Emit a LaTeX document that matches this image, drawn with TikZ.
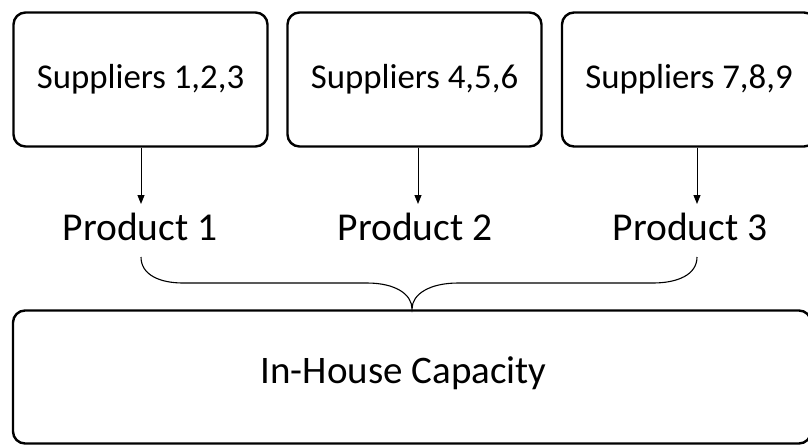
\documentclass[tikz,border=0pt]{standalone}
\usepackage{fontspec}
\setmainfont{Carlito}
\usetikzlibrary{arrows.meta}
\begin{document}
\begin{tikzpicture}[x=1pt,y=-1pt,
  frame/.style={draw, line width=2.4pt, rounded corners=12pt},
  supbox/.style={frame, minimum width=254pt, minimum height=134pt, font=\fontsize{34.8}{40}\selectfont},
  prod/.style={font=\fontsize{39.5}{46}\selectfont},
  feed/.style={-{Triangle[length=9pt,width=7pt]}, line width=1pt},
  brace/.style={line width=1.1pt}]
\useasboundingbox (0,0) rectangle (808,445);
% supplier groups
\node[supbox] (s1) at (140.5,79.5) {Suppliers 1,2,3};
\node[supbox] (s2) at (414.5,79.5) {Suppliers 4,5,6};
\node[supbox] (s3) at (689,79.5) {Suppliers 7,8,9};
% products
\node[prod] (p1) at (140,226.5) {Product 1};
\node[prod] (p2) at (415,226.5) {Product 2};
\node[prod] (p3) at (690,226.5) {Product 3};
% capacity block
\node[frame, minimum width=798pt, minimum height=133pt] (capbox) at (412,377) {};
\node[font=\fontsize{39}{44}\selectfont] (cap) at (403.5,373) {In-House Capacity};
% supply arrows
\draw[feed] (s1.south -| 141,0) -- (141,204) coordinate (t1);
\draw[feed] (s2.south -| 418,0) -- (418,204) coordinate (t2);
\draw[feed] (s3.south -| 697,0) -- (697,204) coordinate (t3);
% brace joining the three products
\coordinate (bl) at (141,257);
\coordinate (br) at (697,257);
\coordinate (tip) at (412,309);
\draw[brace] (bl) .. controls (141,275) and (160,283) .. (183,283)
  -- (367,283) .. controls (395,283) and (412,294) .. (tip)
  .. controls (412,294) and (430,283) .. (458,283)
  -- (653,283) .. controls (677,283) and (697,275) .. (br);
\end{tikzpicture}
\end{document}
